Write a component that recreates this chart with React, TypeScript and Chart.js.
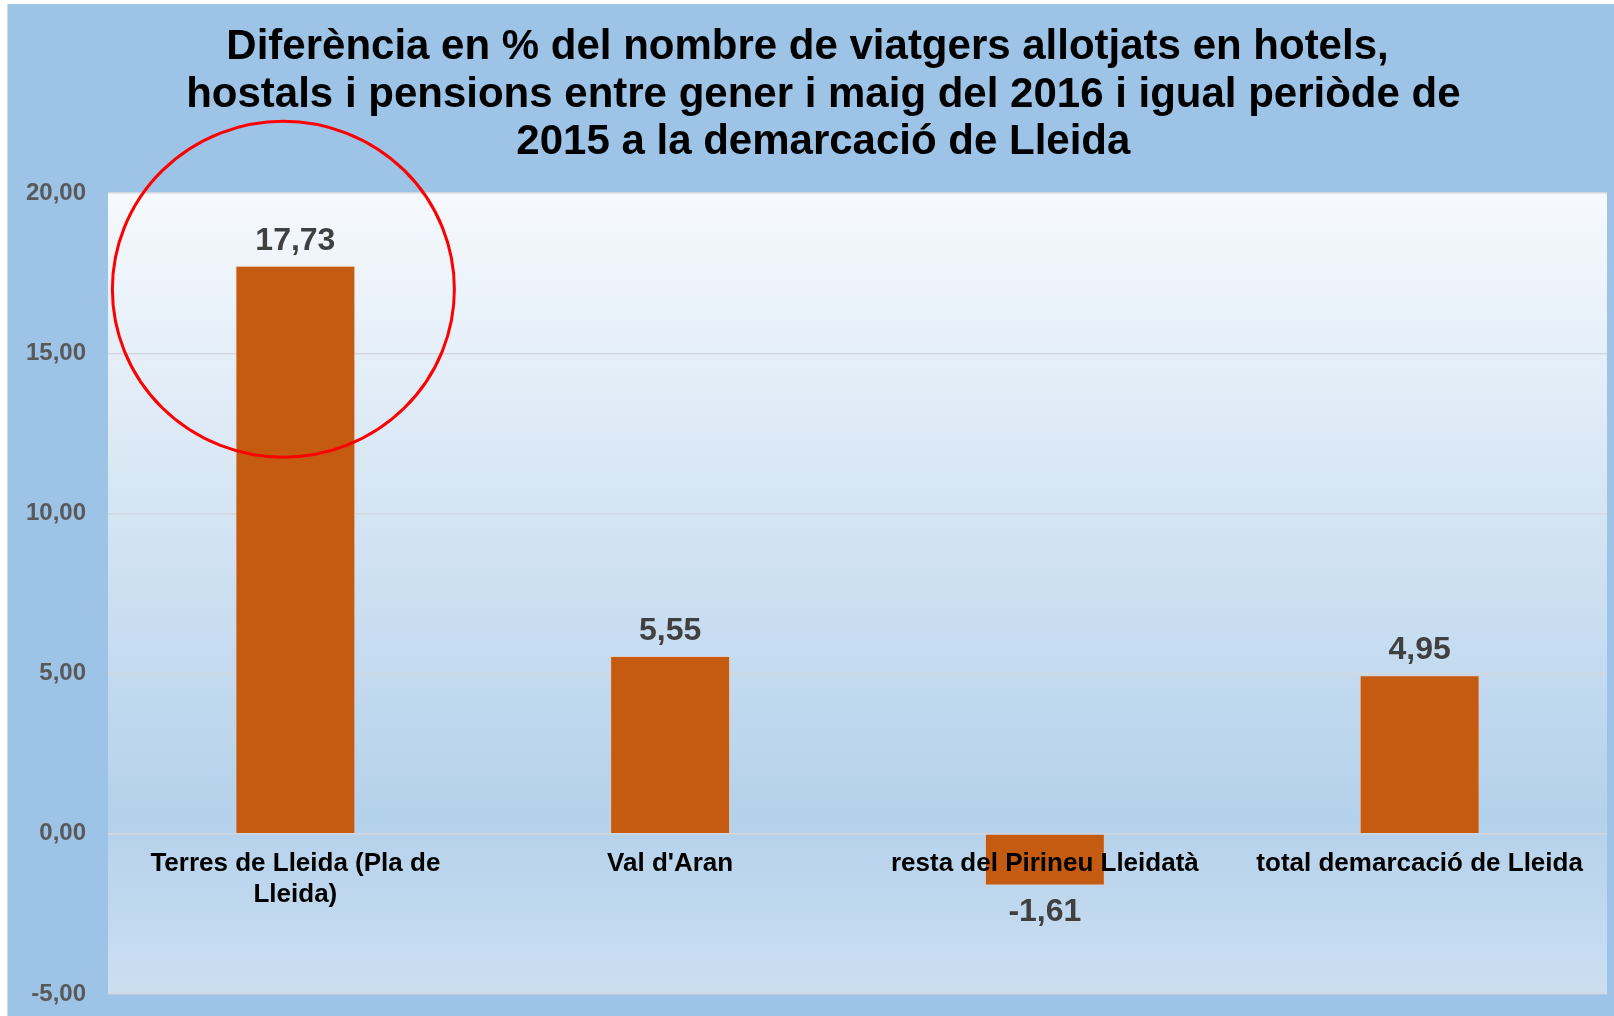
import React, { useEffect, useRef } from "react";
import { Chart, registerables } from "chart.js";

Chart.register(...registerables);

const categories: (string | string[])[] = [
  ["Terres de Lleida (Pla de", "Lleida)"],
  "Val d'Aran",
  "resta del Pirineu Lleidatà",
  "total demarcació de Lleida",
];
const values: number[] = [17.73, 5.55, -1.61, 4.95];
const yTicks = { min: -5, max: 20, step: 5 };
const titleLines: string[] = [
  "Diferència en % del nombre de viatgers allotjats en hotels,",
  "  \u2009hostals i pensions entre gener i maig del 2016 i igual periòde de",
  "  \u20092015 a la demarcació de Lleida",
];
// highlighted bar (index) and circle centre value
const highlight = { index: 0, value: 17.0 };

const FONT = "'Liberation Sans', Arial, sans-serif";
const fmt = (v: number) => v.toFixed(2).replace(".", ",");

export default function App() {
  const ref = useRef<HTMLCanvasElement | null>(null);

  useEffect(() => {
    const canvas = ref.current;
    if (!canvas) return;

    const bgPlugin = {
      id: "plotBg",
      beforeDraw(chart: any) {
        const { ctx, chartArea: a } = chart;
        ctx.save();
        ctx.fillStyle = "#9DC3E6";
        ctx.fillRect(0, 0, chart.width, chart.height);
        const g = ctx.createLinearGradient(0, a.top, 0, a.bottom);
        g.addColorStop(0, "#F6F9FD");
        g.addColorStop(0.78, "#B4D1EB");
        g.addColorStop(1, "#CCDFF1");
        ctx.fillStyle = g;
        ctx.fillRect(a.left, a.top, a.right - a.left, a.bottom - a.top);
        ctx.restore();
      },
    };

    const labelPlugin = {
      id: "valLabels",
      afterDatasetsDraw(chart: any) {
        const { ctx } = chart;
        const meta = chart.getDatasetMeta(0);
        ctx.save();
        ctx.font = `bold 32px ${FONT}`;
        ctx.fillStyle = "#404040";
        ctx.textAlign = "center";
        ctx.textBaseline = "alphabetic";
        meta.data.forEach((bar: any, i: number) => {
          const v = values[i];
          if (v >= 0) {
            ctx.fillText(fmt(v), bar.x, bar.y - 16);
          } else {
            ctx.fillText(fmt(v), bar.x, bar.y + 36);
          }
        });
        ctx.restore();
      },
    };

    const circlePlugin = {
      id: "circle",
      afterDraw(chart: any) {
        const { ctx, scales } = chart;
        const cx = scales.x.getPixelForValue(highlight.index) - 12;
        const cy = scales.y.getPixelForValue(highlight.value);
        ctx.save();
        ctx.strokeStyle = "#FF0000";
        ctx.lineWidth = 3;
        ctx.beginPath();
        ctx.ellipse(cx, cy, 171, 168, 0, 0, Math.PI * 2);
        ctx.stroke();
        ctx.restore();
      },
    };

    const chart = new Chart(canvas, {
      type: "bar",
      data: {
        labels: categories,
        datasets: [
          {
            data: values,
            backgroundColor: "#C55A11",
            borderColor: "rgba(240,200,170,0.6)",
            borderWidth: 1,
            categoryPercentage: 1,
            barPercentage: 0.32,
          },
        ],
      },
      options: {
        animation: false,
        responsive: false,
        devicePixelRatio: 1,
        layout: { padding: { left: 0, right: 7, bottom: 22, top: 0 } },
        plugins: {
          legend: { display: false },
          tooltip: { enabled: false },
          title: {
            display: true,
            text: titleLines,
            color: "#000000",
            font: { family: FONT, size: 42, weight: "bold", lineHeight: 1.128 },
            padding: { top: 20, bottom: 27 },
          },
        },
        scales: {
          y: {
            min: yTicks.min,
            max: yTicks.max,
            afterFit(scale: any) {
              scale.width = 100;
              scale.paddingBottom = 0;
              scale.paddingTop = 0;
            },
            ticks: {
              stepSize: yTicks.step,
              padding: 22,
              color: "#595959",
              font: { family: FONT, size: 24, weight: "bold" },
              callback: (v: any) => fmt(Number(v)),
            },
            grid: { color: "#D4D8DE", lineWidth: 1.5, drawTicks: false },
            border: { display: false },
          },
          x: {
            position: { y: 0 } as any,
            grid: { display: false, drawTicks: false },
            border: { display: false },
            ticks: {
              z: 1,
              padding: 15,
              color: "#000000",
              maxRotation: 0,
              autoSkip: false,
              font: { family: FONT, size: 26, weight: "bold", lineHeight: 1.19 },
            },
          },
        },
      },
      plugins: [bgPlugin, labelPlugin, circlePlugin],
    } as any);

    return () => chart.destroy();
  }, []);

  return (
    <div
      style={{
        position: "absolute",
        left: 7,
        top: 4,
        borderLeft: "1px solid #D8D8D8",
        background: "#9DC3E6",
      }}
    >
      <canvas ref={ref} width={1606} height={1012} style={{ display: "block" }} />
    </div>
  );
}
